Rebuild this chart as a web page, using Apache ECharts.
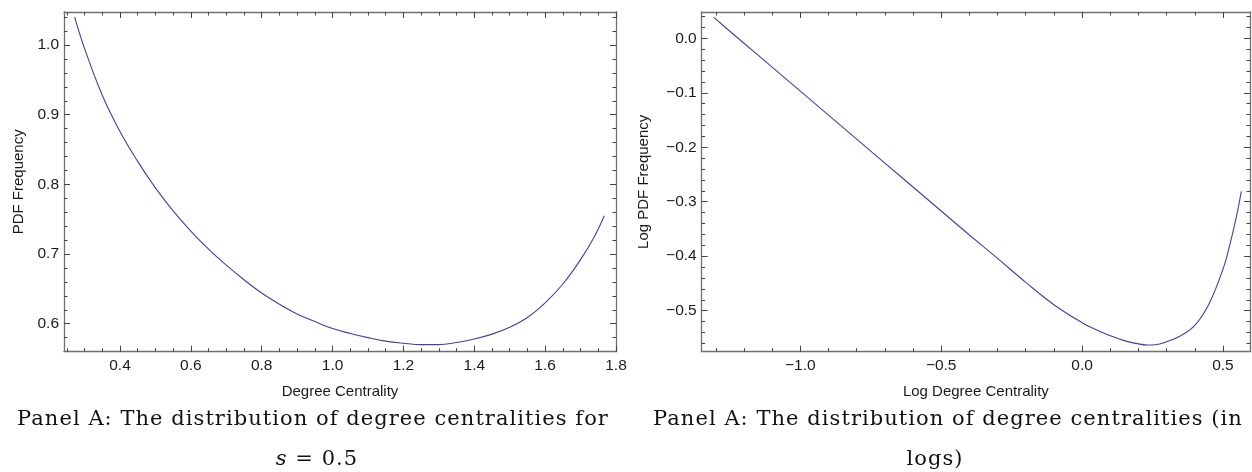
<!DOCTYPE html>
<html><head><meta charset="utf-8">
<script src="https://cdn.jsdelivr.net/npm/echarts@6/dist/echarts.min.js"></script>
<style>
html,body{margin:0;padding:0;background:#fff}
#wrap{position:relative;width:1252px;height:472px}
#c{position:absolute;left:0;top:0;width:1252px;height:472px}
.cap{position:absolute;white-space:nowrap;font-family:'DejaVu Serif',serif;font-size:21px;line-height:24px;letter-spacing:1.05px;color:#111;transform:translateX(-50%)}
</style>
</head><body><div id="wrap"><div id="c"></div></div>
<script>
// Panel 1: degree centrality vs PDF frequency
const degX = [0.272, 0.30, 0.35, 0.40, 0.45, 0.50, 0.55, 0.60, 0.65, 0.70, 0.75, 0.80, 0.85, 0.90, 0.95, 1.00, 1.05, 1.10, 1.15, 1.20, 1.25, 1.30, 1.35, 1.40, 1.45, 1.50, 1.55, 1.60, 1.65, 1.70, 1.74, 1.767];
const degPdf = [1.040, 0.995, 0.928, 0.876, 0.833, 0.795, 0.762, 0.733, 0.707, 0.684, 0.663, 0.644, 0.628, 0.614, 0.603, 0.593, 0.586, 0.580, 0.575, 0.572, 0.570, 0.570, 0.573, 0.578, 0.585, 0.595, 0.609, 0.630, 0.657, 0.692, 0.726, 0.755];
// Panel 2: log degree centrality vs log PDF frequency
const logX = [-1.307, -1.25, -1.2, -1.1, -1.0, -0.9, -0.8, -0.7, -0.6, -0.5, -0.4, -0.3, -0.2, -0.1, 0.0, 0.05, 0.1, 0.15, 0.2, 0.23, 0.26, 0.3, 0.35, 0.4, 0.45, 0.5, 0.525, 0.55, 0.565];
const logPdf = [0.0385, 0.013, -0.009, -0.053, -0.097, -0.141, -0.185, -0.229, -0.273, -0.317, -0.361, -0.404, -0.448, -0.489, -0.522, -0.535, -0.546, -0.555, -0.561, -0.563, -0.5625, -0.557, -0.546, -0.527, -0.488, -0.424, -0.378, -0.322, -0.281];

// Tick labels / tick positions
const degXMajor = [0.4, 0.6, 0.8, 1.0, 1.2, 1.4, 1.6, 1.8];
const degXMinor = [0.25, 0.3, 0.35, 0.45, 0.5, 0.55, 0.65, 0.7, 0.75, 0.85, 0.9, 0.95, 1.05, 1.1, 1.15, 1.25, 1.3, 1.35, 1.45, 1.5, 1.55, 1.65, 1.7, 1.75];
const degYMajor = [0.6, 0.7, 0.8, 0.9, 1.0];
const degYMinor = [0.58, 0.62, 0.64, 0.66, 0.68, 0.72, 0.74, 0.76, 0.78, 0.82, 0.84, 0.86, 0.88, 0.92, 0.94, 0.96, 0.98, 1.02, 1.04];
const logXMajor = [-1.0, -0.5, 0.0, 0.5];
const logXMinor = [-1.3, -1.2, -1.1, -0.9, -0.8, -0.7, -0.6, -0.4, -0.3, -0.2, -0.1, 0.1, 0.2, 0.3, 0.4];
const logYMajor = [0.0, -0.1, -0.2, -0.3, -0.4, -0.5];
const logYMinor = [0.04, 0.02, -0.02, -0.04, -0.06, -0.08, -0.12, -0.14, -0.16, -0.18, -0.22, -0.24, -0.26, -0.28, -0.32, -0.34, -0.36, -0.38, -0.42, -0.44, -0.46, -0.48, -0.52, -0.54, -0.56];

// Captions
const captions = [
  {text: 'Panel A: The distribution of degree centralities for', x: 313, top: 406},
  {html: '<i>s</i> = 0.5', x: 317, top: 446},
  {text: 'Panel A: The distribution of degree centralities (in', x: 948, top: 406},
  {text: 'logs)', x: 935, top: 446}
];

const SANS = 'Liberation Sans, Arial, Helvetica, sans-serif';
const frame = {color: '#707070', width: 1.3};
const tickStyle = {color: '#444', width: 1};
const fmt = v => v.toFixed(1).replace('-', '\u2212');

function axisPair(grid, pos, min, max, majors, minors, labels, name, nameGap) {
  const major = {
    type: 'value', gridIndex: grid, position: pos, min: min, max: max,
    axisLine: {show: true, onZero: false, lineStyle: frame},
    axisTick: {show: true, inside: true, length: 6, customValues: majors, lineStyle: tickStyle},
    axisLabel: labels ? {show: true, customValues: majors, formatter: fmt, fontFamily: SANS, fontSize: 15.5, color: '#1a1a1a', margin: pos === 'bottom' ? 6 : 5} : {show: false},
    splitLine: {show: false}
  };
  if (name) {
    major.name = name; major.nameLocation = 'middle'; major.nameGap = nameGap;
    major.nameTextStyle = {fontFamily: SANS, fontSize: 15, color: '#1a1a1a'};
  }
  const minor = {
    type: 'value', gridIndex: grid, position: pos, min: min, max: max,
    axisLine: {show: false, onZero: false},
    axisTick: {show: true, inside: true, length: 3.5, customValues: minors, lineStyle: tickStyle},
    axisLabel: {show: false}, splitLine: {show: false}
  };
  return [major, minor];
}

const xAxes = [].concat(
  axisPair(0, 'bottom', 0.242, 1.8, degXMajor, degXMinor, true, 'Degree Centrality', 33),
  axisPair(0, 'top', 0.242, 1.8, degXMajor, degXMinor, false),
  axisPair(1, 'bottom', -1.35, 0.596, logXMajor, logXMinor, true, 'Log Degree Centrality', 33),
  axisPair(1, 'top', -1.35, 0.596, logXMajor, logXMinor, false)
);
const yAxes = [].concat(
  axisPair(0, 'left', 0.5598, 1.0474, degYMajor, degYMinor, true, 'PDF Frequency', 38),
  axisPair(0, 'right', 0.5598, 1.0474, degYMajor, degYMinor, false),
  axisPair(1, 'left', -0.5753, 0.0483, logYMajor, logYMinor, true, 'Log PDF Frequency', 50),
  axisPair(1, 'right', -0.5753, 0.0483, logYMajor, logYMinor, false)
);

const chart = echarts.init(document.getElementById('c'), null, {renderer: 'canvas'});
chart.setOption({
  animation: false,
  backgroundColor: '#ffffff',
  grid: [
    {left: 64, top: 12, width: 552, height: 339.7},
    {left: 701.7, top: 12, width: 548.3, height: 339.7}
  ],
  xAxis: xAxes,
  yAxis: yAxes,
  series: [
    {type: 'line', xAxisIndex: 0, yAxisIndex: 0, data: degX.map((x, i) => [x, degPdf[i]]),
     showSymbol: false, smooth: 0.4, lineStyle: {color: '#4040a8', width: 1.1}, silent: true},
    {type: 'line', xAxisIndex: 4, yAxisIndex: 4, data: logX.map((x, i) => [x, logPdf[i]]),
     showSymbol: false, smooth: 0.4, lineStyle: {color: '#4040a8', width: 1.1}, silent: true}
  ]
});

const wrap = document.getElementById('wrap');
captions.forEach(c => {
  const d = document.createElement('div');
  d.className = 'cap';
  if (c.html) d.innerHTML = c.html; else d.textContent = c.text;
  d.style.left = c.x + 'px';
  d.style.top = c.top + 'px';
  wrap.appendChild(d);
});
</script></body></html>
